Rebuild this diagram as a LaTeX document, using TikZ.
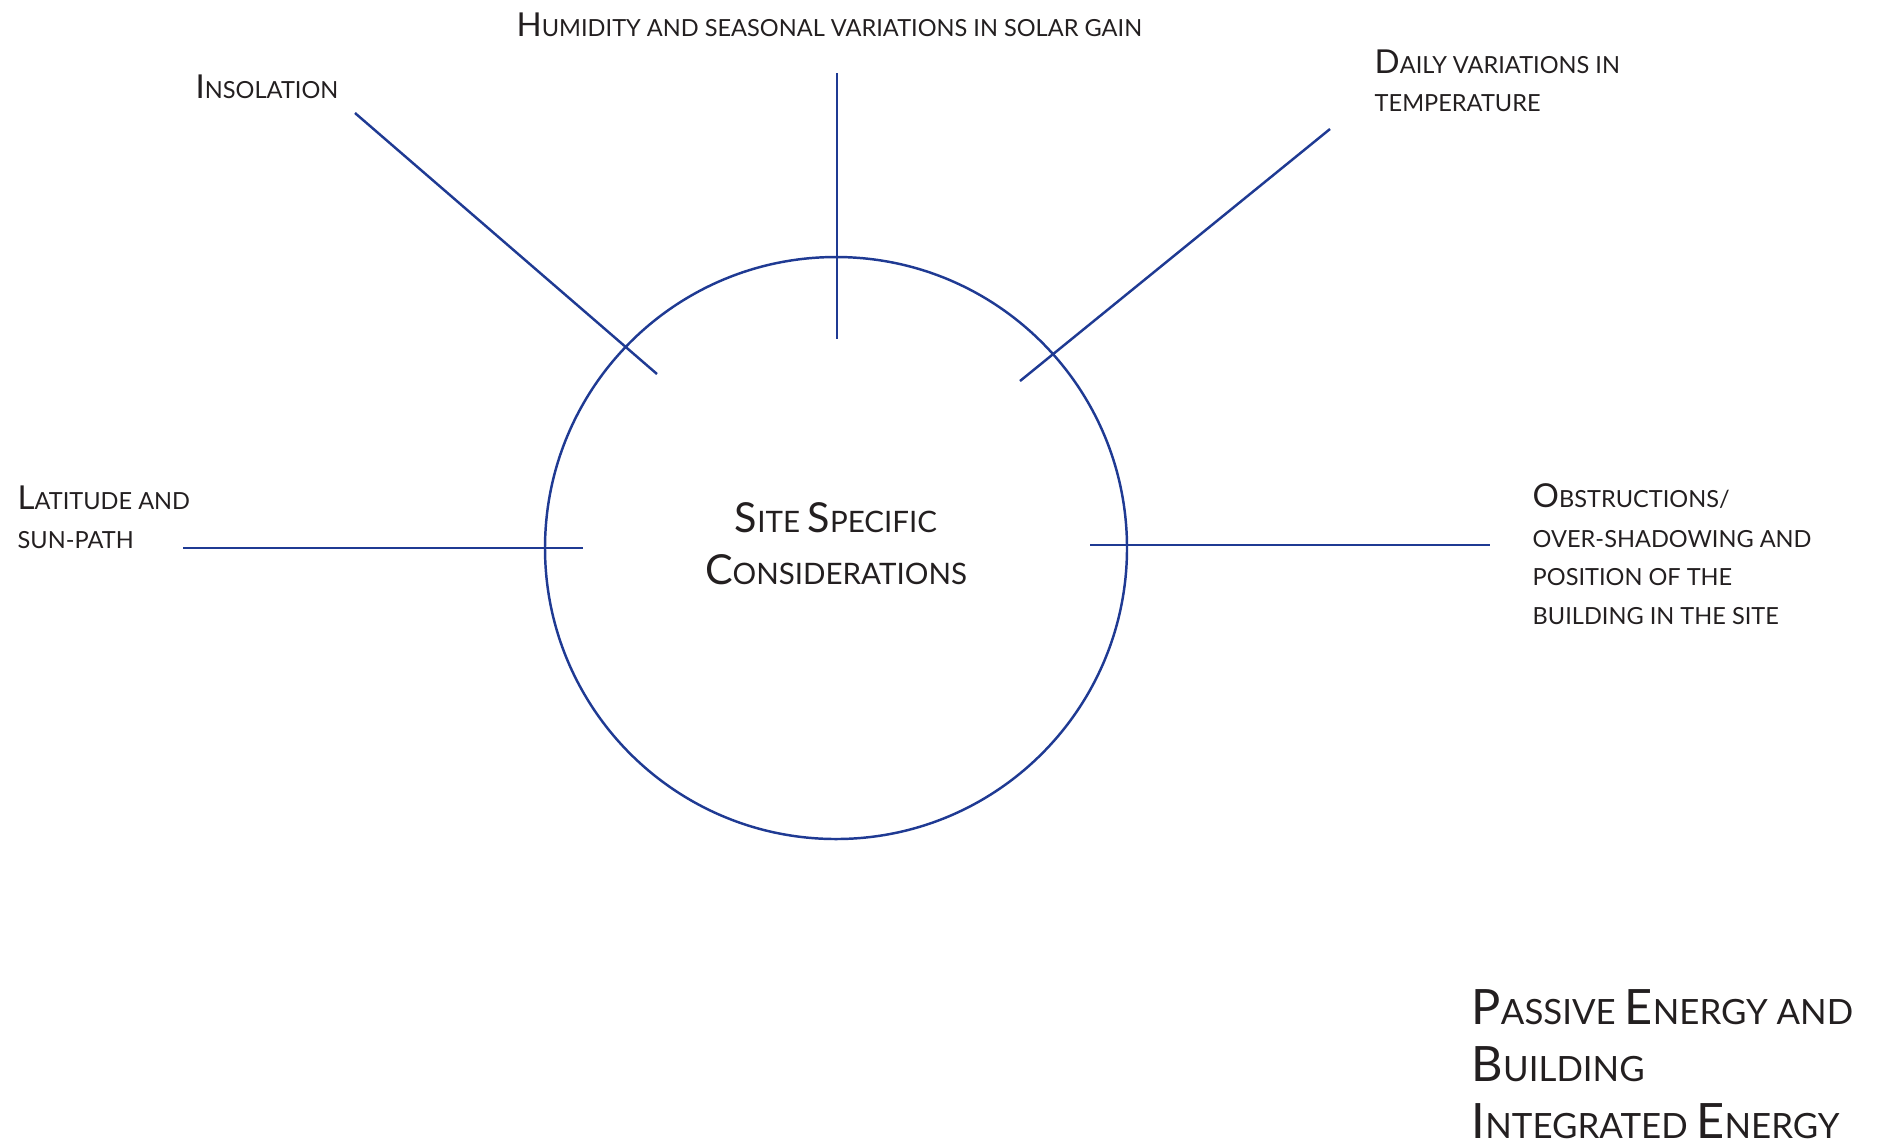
\documentclass[tikz,border=0pt]{standalone}
\usepackage{fontspec}
\usepackage{graphicx}
\setmainfont{Lato}
\definecolor{spokeblue}{HTML}{1F3A93}
\definecolor{inkgrey}{HTML}{231F20}
\newcommand\capup[1]{\scalebox{1.4}{#1}}
\tikzset{
	spoke/.style={draw=spokeblue, line width=0.7pt},
	lbl/.style={anchor=base west, inner sep=0pt, text=inkgrey, font=\fontsize{6.7}{8}\selectfont},
	mid/.style={anchor=base, inner sep=0pt, text=inkgrey, font=\fontsize{8.4}{10}\selectfont},
	ttl/.style={anchor=base west, inner sep=0pt, text=inkgrey, font=\fontsize{9.9}{12}\selectfont}
}
\begin{document}
\begin{tikzpicture}[x=0.01cm, y=-0.01cm]
\useasboundingbox (0,0) rectangle (1879,1144);
\draw[spoke] (836,548) circle (291);
\path
	(516,36) node [lbl] (humid) {\capup{H}UMIDITY AND SEASONAL VARIATIONS IN SOLAR GAIN}
	(195,98) node [lbl] (insol) {\capup{I}NSOLATION}
	(1374,73) node [lbl] (daily1) {\capup{D}AILY VARIATIONS IN}
	(1374,111) node [lbl] (daily2) {TEMPERATURE}
	(17,509) node [lbl] (lat1) {\capup{L}ATITUDE AND}
	(17,548) node [lbl] (lat2) {SUN-PATH}
	(1532,507) node [lbl] (obst1) {\capup{O}BSTRUCTIONS/}
	(1532,547) node [lbl] (obst2) {OVER-SHADOWING AND}
	(1532,585) node [lbl] (obst3) {POSITION OF THE}
	(1532,624) node [lbl] (obst4) {BUILDING IN THE SITE}
	(836,532) node [mid] (site1) {\capup{S}ITE \capup{S}PECIFIC}
	(836,584) node [mid] (site2) {\capup{C}ONSIDERATIONS}
	(1471,1024) node [ttl] (pass1) {\capup{P}ASSIVE \capup{E}NERGY AND}
	(1471,1081) node [ttl] (pass2) {\capup{B}UILDING}
	(1471,1138) node [ttl] (pass3) {\capup{I}NTEGRATED \capup{E}NERGY};
% spokes
\coordinate (insolA) at (355,113);
\coordinate (insolB) at (657,374);
\coordinate (humidA) at (837,73);
\coordinate (humidB) at (837,339);
\coordinate (dailyA) at (1330,129);
\coordinate (dailyB) at (1020,381);
\coordinate (latA) at (183,548);
\coordinate (latB) at (583,548);
\coordinate (obstA) at (1090,545);
\coordinate (obstB) at (1490,545);
\draw[spoke] (insolA) -- (insolB);
\draw[spoke] (humidA) -- (humidB);
\draw[spoke] (dailyA) -- (dailyB);
\draw[spoke] (latA) -- (latB);
\draw[spoke] (obstA) -- (obstB);
\end{tikzpicture}
\end{document}
